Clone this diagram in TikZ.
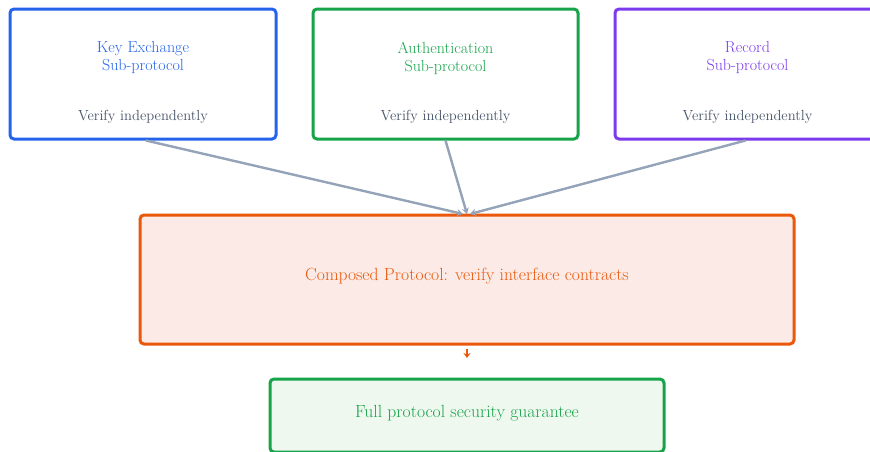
\documentclass[tikz,border=0pt]{standalone}
\usetikzlibrary{arrows.meta}
\definecolor{kblue}{HTML}{2563EB}
\definecolor{kgreen}{HTML}{16A34A}
\definecolor{kpurple}{HTML}{7C3AED}
\definecolor{korange}{HTML}{EA580C}
\definecolor{kslate}{HTML}{475569}
\definecolor{karrow}{HTML}{94A3B8}
\definecolor{kofill}{HTML}{FBEAE5}
\definecolor{kgfill}{HTML}{EEF8EF}
\tikzset{
  x=1pt, y=-1pt,
  boxst/.style={draw, line width=3pt, rounded corners=4pt, inner sep=0pt},
  titlest/.style={font=\fontsize{16}{18}\selectfont, align=center, inner sep=0pt},
  bigst/.style={font=\fontsize{17.6}{18}\selectfont, align=center, inner sep=0pt},
  notest/.style={font=\fontsize{14.6}{18}\selectfont, text=kslate, inner sep=0pt},
  conn/.style={draw=karrow, line width=2.4pt, -{Stealth[length=6pt,width=7pt]}},
}
\begin{document}
\begin{tikzpicture}
\useasboundingbox (0,0) rectangle (870,451);
\clip (0,0) rectangle (870,451);
% top boxes
\node[boxst, draw=kblue, minimum width=266pt, minimum height=130pt] (ke) at (143,74) {};
\node[boxst, draw=kgreen, minimum width=265pt, minimum height=130pt] (au) at (445.5,74) {};
\node[boxst, draw=kpurple, minimum width=265pt, minimum height=130pt] (re) at (747.5,74) {};
\node[titlest, text=kblue] (ket) at (143,58) {Key Exchange\\Sub-protocol};
\node[titlest, text=kgreen] (aut) at (445.5,58) {Authentication\\Sub-protocol};
\node[titlest, text=kpurple] (ret) at (747.5,58) {Record\\Sub-protocol};
\node[notest] (ken) at (143,117) {Verify independently};
\node[notest] (aun) at (445.5,117) {Verify independently};
\node[notest] (ren) at (747.5,117) {Verify independently};
% composed
\node[boxst, draw=korange, fill=kofill, minimum width=654pt, minimum height=129pt] (cp) at (467,279.5) {};
\node[bigst, text=korange] (cpt) at (467,276) {Composed Protocol: verify interface contracts};
% full
\node[boxst, draw=kgreen, fill=kgfill, minimum width=394pt, minimum height=73pt] (fp) at (467,415.5) {};
\node[bigst, text=kgreen] (fpt) at (467,413) {Full protocol security guarantee};
% connectors
\coordinate (c1) at (463,214);
\coordinate (c2) at (467,214);
\coordinate (c3) at (470,214);
\draw[conn] (ke.south) ++(3,0) -- (c1);
\draw[conn] (au.south) -- (c2);
\draw[conn] (re.south) ++(-2,0) -- (c3);
\coordinate (o2) at (467,358);
\draw[draw=korange, line width=2pt, -{Stealth[length=5pt,width=7pt]}] (cp.south) ++(0,3) -- (o2);
\end{tikzpicture}
\end{document}
